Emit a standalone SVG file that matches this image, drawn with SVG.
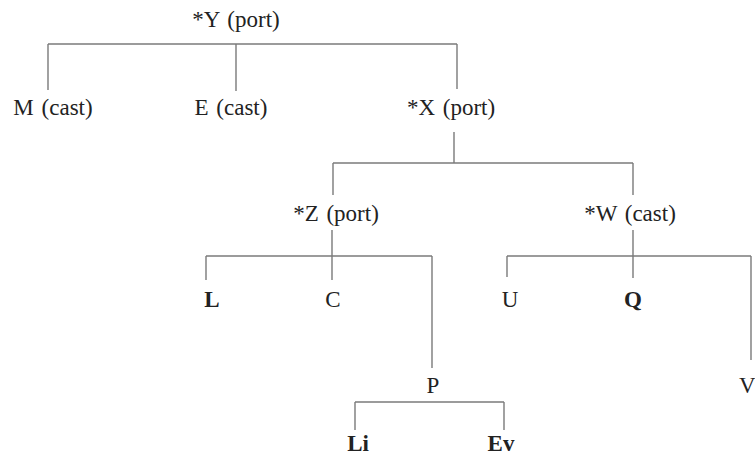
<svg xmlns="http://www.w3.org/2000/svg" width="755" height="457" viewBox="0 0 755 457">
<style>
text{font-family:"Liberation Serif","Times New Roman",serif;font-size:23px;fill:#222;text-anchor:middle;word-spacing:2px}
.b{font-weight:bold}
.c line{stroke:#7a7a7a;stroke-width:1.4}
</style>
<rect width="755" height="457" fill="#fff"/>
<g class="c" id="connectors">
<line x1="48" y1="44" x2="457" y2="44"/>
<line x1="48" y1="44" x2="48" y2="90"/>
<line x1="236" y1="44" x2="236" y2="91"/>
<line x1="457" y1="44" x2="457" y2="89"/>
<line x1="454" y1="132" x2="454" y2="163"/>
<line x1="333" y1="163" x2="633" y2="163"/>
<line x1="333" y1="163" x2="333" y2="195"/>
<line x1="633" y1="163" x2="633" y2="195"/>
<line x1="332" y1="230" x2="332" y2="280"/>
<line x1="206" y1="256" x2="432" y2="256"/>
<line x1="206" y1="256" x2="206" y2="280"/>
<line x1="432" y1="256" x2="432" y2="368"/>
<line x1="633" y1="230" x2="633" y2="278"/>
<line x1="507" y1="256" x2="751" y2="256"/>
<line x1="507" y1="256" x2="507" y2="277"/>
<line x1="751" y1="256" x2="751" y2="360"/>
<line x1="355" y1="402" x2="504" y2="402"/>
<line x1="355" y1="402" x2="355" y2="430"/>
<line x1="504" y1="402" x2="504" y2="430"/>
</g>
<g id="Y"><text x="236" y="27">*Y (port)</text></g>
<g id="M"><text x="53" y="115">M (cast)</text></g>
<g id="E"><text x="231" y="115">E (cast)</text></g>
<g id="X"><text x="451" y="115">*X (port)</text></g>
<g id="Z"><text x="336" y="221">*Z (port)</text></g>
<g id="W"><text x="630" y="221">*W (cast)</text></g>
<g id="L"><text class="b" x="212" y="307">L</text></g>
<g id="C"><text x="333" y="307">C</text></g>
<g id="U"><text x="510" y="307">U</text></g>
<g id="Q"><text class="b" x="633" y="307">Q</text></g>
<g id="P"><text x="433" y="393">P</text></g>
<g id="V"><text x="739" y="393" style="text-anchor:start">V</text></g>
<g id="Li"><text class="b" x="358" y="451">Li</text></g>
<g id="Ev"><text class="b" x="501" y="451">Ev</text></g>
</svg>
